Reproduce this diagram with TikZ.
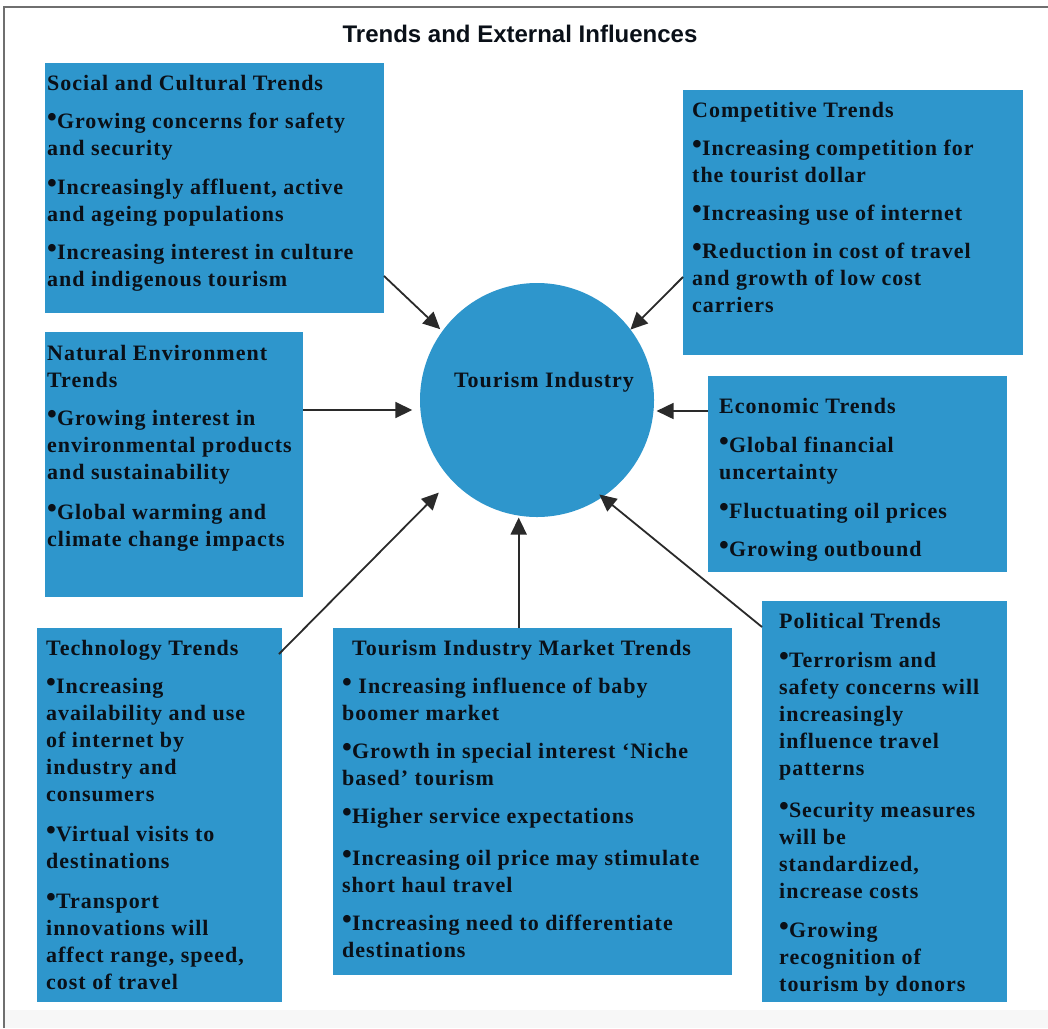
\documentclass[tikz,border=0pt]{standalone}
\usepackage{fontspec}
\setmainfont{Liberation Serif}[LetterSpace=4.5]
\newfontfamily\titlefont{Liberation Sans}
\usetikzlibrary{arrows.meta}
\definecolor{boxblue}{HTML}{2E96CC}
\definecolor{ink}{HTML}{0A1018}
\definecolor{arrowc}{HTML}{2A2A2A}
\definecolor{framec}{HTML}{6F6F6F}
\definecolor{stripc}{HTML}{F7F7F7}
\newcommand{\bl}{\raisebox{1.5pt}{\fontsize{28}{28}\selectfont •}}
\newcommand{\hd}{\rule{0pt}{16pt}}
\tikzset{
  panel/.style={rectangle, fill=boxblue, draw=none, inner sep=0pt, outer sep=0pt, anchor=north west},
  txt/.style={font=\bfseries\fontsize{22}{27}\selectfont, text=ink, align=left, inner sep=0pt, anchor=north west},
  arr/.style={draw=arrowc, line width=1.8pt, -{Triangle[length=17pt,width=16pt]}},
}
\begin{document}
\begin{tikzpicture}[x=1pt,y=-1pt]
\useasboundingbox (0,0) rectangle (1048,1028);
\fill[white] (0,0) rectangle (1048,1028);
\fill[stripc] (5,1010) rectangle (1048,1028);
\draw[framec, line width=2.5pt] (4,1028) -- (4,7) -- (1048,7);

\node[font=\titlefont\bfseries\fontsize{24}{28}\selectfont, text=ink, anchor=base, inner sep=0pt] (title) at (520,42) {Trends and External Influences};

% panels
\node[panel, minimum width=339pt, minimum height=250pt] (soc) at (45,63) {};
\node[panel, minimum width=340pt, minimum height=265pt] (comp) at (683,90) {};
\node[panel, minimum width=258pt, minimum height=265pt] (nat) at (45,332) {};
\node[panel, minimum width=299pt, minimum height=196pt] (eco) at (708,376) {};
\node[panel, minimum width=245pt, minimum height=374pt] (tech) at (37,628) {};
\node[panel, minimum width=399pt, minimum height=347pt] (mkt) at (333,628) {};
\node[panel, minimum width=245pt, minimum height=401pt] (pol) at (762,601) {};

% centre
\node[circle, fill=boxblue, minimum size=234pt, inner sep=0pt, outer sep=0pt] (circ) at (537,400) {};
\node[font=\bfseries\fontsize{22}{27}\selectfont, text=ink, anchor=base, inner sep=0pt] (circt) at (544,387) {Tourism Industry};

% texts
\node[txt] (soct) at (47,74) {\hd Social and Cultural Trends\\[11pt]
\bl Growing concerns for safety\\
and security\\[12pt]
\bl Increasingly affluent, active\\
and ageing populations\\[11pt]
\bl Increasing interest in culture\\
and indigenous tourism};

\node[txt] (compt) at (692,101) {\hd Competitive Trends\\[11pt]
\bl Increasing competition for\\
the tourist dollar\\[11pt]
\bl Increasing use of internet\\[11pt]
\bl Reduction in cost of travel\\
and growth of low cost\\
carriers};

\node[txt] (natt) at (47,344) {\hd Natural Environment\\
Trends\\[11pt]
\bl Growing interest in\\
environmental products\\
and sustainability\\[13pt]
\bl Global warming and\\
climate change impacts};

\node[txt] (ecot) at (719,397) {\hd Economic Trends\\[12pt]
\bl Global financial\\
uncertainty\\[12pt]
\bl Fluctuating oil prices\\[11pt]
\bl Growing outbound};

\node[txt] (techt) at (46,639) {\hd Technology Trends\\[11pt]
\bl Increasing\\
availability and use\\
of internet by\\
industry and\\
consumers\\[13pt]
\bl Virtual visits to\\
destinations\\[13pt]
\bl Transport\\
innovations will\\
affect range, speed,\\
cost of travel};

\node[txt] (mktt) at (342,639) {\hd\hspace*{10pt}Tourism Industry Market Trends\\[11pt]
\bl\ Increasing influence of baby\\
boomer market\\[11pt]
\bl Growth in special interest ‘Niche\\
based’ tourism\\[11pt]
\bl Higher service expectations\\[15pt]
\bl Increasing oil price may stimulate\\
short haul travel\\[11pt]
\bl Increasing need to differentiate\\
destinations};

\node[txt] (polt) at (779,612) {\hd Political Trends\\[12pt]
\bl Terrorism and\\
safety concerns will\\
increasingly\\
influence travel\\
patterns\\[15pt]
\bl Security measures\\
will be\\
standardized,\\
increase costs\\[12pt]
\bl Growing\\
recognition of\\
tourism by donors};

% connector start points
\coordinate (socS) at ([yshift=37pt]soc.south east);
\coordinate (compS) at ([yshift=-187pt]comp.north west);
\coordinate (natS) at ([yshift=-78pt]nat.north east);
\coordinate (ecoS) at ([yshift=-35pt]eco.north west);
\coordinate (techS) at ([xshift=-3pt,yshift=-26pt]tech.north east);
\coordinate (polS) at ([yshift=-26pt]pol.north west);

% connectors
\draw[arr, shorten >=3pt] (socS) -- (circ.144.5);
\draw[arr] (compS) -- (circ.37.6);
\draw[arr, shorten >=8pt] (natS) -- (circ.184.6 |- natS);
\draw[arr, shorten >=3pt] (ecoS) -- (circ.-5.3 |- ecoS);
\draw[arr, shorten >=18pt] (techS) -- (circ.223.5);
\draw[arr, shorten >=2pt] (circ.261.8 |- mkt.north) -- (circ.261.8);
\draw[arr, shorten >=-4pt] (polS) -- (circ.304.5);
\end{tikzpicture}
\end{document}
